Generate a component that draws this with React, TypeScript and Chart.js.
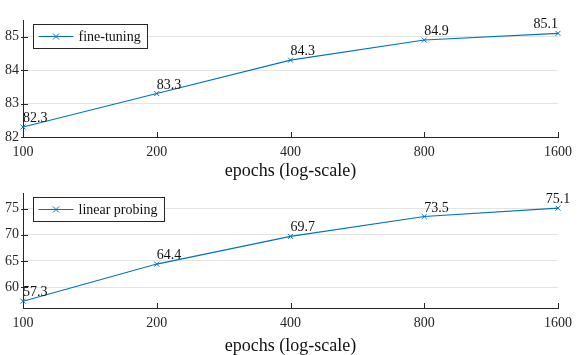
import React, { useEffect, useRef } from 'react';
import { Chart, registerables } from 'chart.js';
Chart.register(...registerables);

const epochs = [100, 200, 400, 800, 1600];
const fineTuning = [82.3, 83.3, 84.3, 84.9, 85.1];
const linearProbing = [57.3, 64.4, 69.7, 73.5, 75.1];
const xTicks = [100, 200, 400, 800, 1600];
const yTicksTop = [82, 83, 84, 85];
const yTicksBottom = [60, 65, 70, 75];
const rangeTop = [82, 85.5];
const rangeBottom = [56, 78];
const alignTop = ['left', 'left', 'left', 'left', 'right'];
const alignBottom = ['left', 'left', 'left', 'left', 'center'];
const xTitle = 'epochs (log-scale)';

const FONT = "'Liberation Serif', 'Times New Roman', serif";
const BLUE = '#0072BD';
const AXIS = '#262626';

type Props = {
  name: string;
  values: number[];
  yTicks: number[];
  range: number[];
  align: string[];
  height: number;
  padTop: number;
  xAxisH: number;
  titlePad: number;
};

function Panel(p: Props) {
  const ref = useRef<HTMLCanvasElement>(null);
  useEffect(() => {
    const ctx = ref.current!.getContext('2d')!;
    const pts = epochs.map((e, i) => ({ x: e, y: p.values[i] }));

    const extras = {
      id: 'extras',
      afterDatasetsDraw(chart: any) {
        const c = chart.ctx;
        const meta = chart.getDatasetMeta(0);
        c.save();
        c.fillStyle = '#111';
        c.font = `14px ${FONT}`;
        c.textBaseline = 'alphabetic';
        meta.data.forEach((el: any, i: number) => {
          c.textAlign = p.align[i] as CanvasTextAlign;
          c.fillText(p.values[i].toFixed(1), el.x, el.y - 5);
        });
        c.restore();
      },
      afterDraw(chart: any) {
        const c = chart.ctx;
        const a = chart.chartArea;
        const xs = chart.scales.x;
        const ys = chart.scales.y;
        c.save();
        c.strokeStyle = AXIS;
        c.lineWidth = 1;
        c.beginPath();
        xTicks.forEach((t) => {
          const x = Math.round(xs.getPixelForValue(t)) + 0.5;
          c.moveTo(x, a.bottom);
          c.lineTo(x, a.bottom - 5);
        });
        p.yTicks.forEach((t) => {
          const y = Math.round(ys.getPixelForValue(t)) + 0.5;
          c.moveTo(a.left - 2, y);
          c.lineTo(a.left + 5, y);
        });
        c.stroke();
        // legend
        c.font = `14px ${FONT}`;
        const tw = c.measureText(p.name).width;
        const bx = Math.round(a.left + 10) + 0.5;
        const by = Math.round(a.top + 4) + 0.5;
        const bw = Math.round(45 + tw + 7);
        const bh = 24;
        c.fillStyle = '#fff';
        c.fillRect(bx, by, bw, bh);
        c.strokeStyle = AXIS;
        c.strokeRect(bx, by, bw, bh);
        const cy = by + bh / 2;
        c.strokeStyle = BLUE;
        c.beginPath();
        c.moveTo(bx + 5, cy);
        c.lineTo(bx + 40, cy);
        const mx = bx + 22.5;
        c.moveTo(mx - 3, cy - 3);
        c.lineTo(mx + 3, cy + 3);
        c.moveTo(mx - 3, cy + 3);
        c.lineTo(mx + 3, cy - 3);
        c.stroke();
        c.fillStyle = '#111';
        c.textAlign = 'left';
        c.textBaseline = 'middle';
        c.fillText(p.name, bx + 45, cy + 1);
        c.restore();
      },
    };

    const chart = new Chart(ctx, {
      type: 'line',
      data: {
        datasets: [
          {
            label: p.name,
            data: pts,
            borderColor: BLUE,
            backgroundColor: BLUE,
            borderWidth: 1.1,
            pointStyle: 'crossRot',
            pointRadius: 3.5,
            pointBorderWidth: 1,
            pointBorderColor: BLUE,
            tension: 0,
            clip: false as any,
          },
        ],
      },
      options: {
        animation: false,
        responsive: false,
        devicePixelRatio: 1,
        layout: { padding: { top: p.padTop, right: 27, left: 0, bottom: 0 } },
        plugins: { legend: { display: false }, tooltip: { enabled: false } },
        scales: {
          x: {
            type: 'logarithmic',
            min: xTicks[0],
            max: xTicks[xTicks.length - 1],
            afterBuildTicks: (s: any) => {
              s.ticks = xTicks.map((v) => ({ value: v }));
            },
            afterFit: (s: any) => {
              s.height = p.xAxisH;
            },
            grid: { display: false, drawTicks: false },
            border: { display: true, color: AXIS, width: 1 },
            ticks: {
              autoSkip: false,
              maxRotation: 0,
              padding: 7,
              color: AXIS,
              font: { family: FONT, size: 14 },
              callback: (v: any) => String(v),
            },
            title: {
              display: true,
              text: xTitle,
              color: '#111',
              font: { family: FONT, size: 18, lineHeight: 1 },
              padding: { top: p.titlePad, bottom: p.titlePad },
            },
          },
          y: {
            min: p.range[0],
            max: p.range[1],
            afterBuildTicks: (s: any) => {
              s.ticks = p.yTicks.map((v) => ({ value: v }));
            },
            afterFit: (s: any) => {
              s.width = 23;
            },
            grid: { display: true, color: '#e3e3e3', drawTicks: false, lineWidth: 1 },
            border: { display: true, color: AXIS, width: 1 },
            ticks: {
              padding: 4,
              color: AXIS,
              font: { family: FONT, size: 14 },
              callback: (v: any) => String(v),
            },
          },
        },
      },
      plugins: [extras],
    } as any);
    return () => chart.destroy();
  }, []);
  return <canvas ref={ref} width={585} height={p.height} style={{ display: 'block', width: 585, height: p.height }} />;
}

export default function App() {
  return (
    <div style={{ position: 'absolute', left: 0, top: 0, width: 585, height: 355, background: '#fff' }}>
      <Panel
        name="fine-tuning"
        values={fineTuning}
        yTicks={yTicksTop}
        range={rangeTop}
        align={alignTop}
        height={180}
        padTop={20}
        xAxisH={43}
        titlePad={0}
      />
      <Panel
        name="linear probing"
        values={linearProbing}
        yTicks={yTicksBottom}
        range={rangeBottom}
        align={alignBottom}
        height={175}
        padTop={13}
        xAxisH={47}
        titlePad={0}
      />
    </div>
  );
}
